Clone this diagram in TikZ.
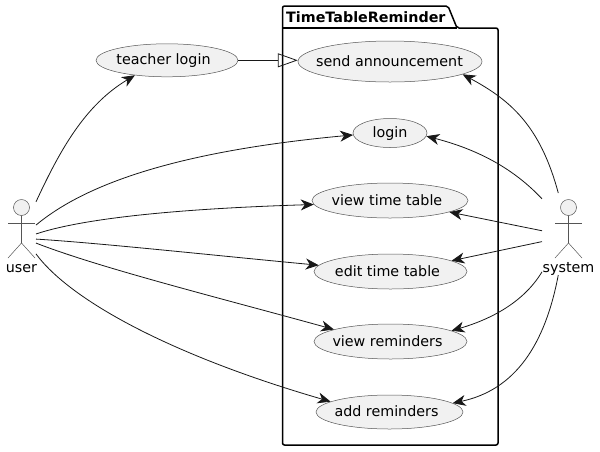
\documentclass[tikz,border=0pt]{standalone}
\usepackage{fontspec}
\setmainfont{DejaVu Sans}
\usetikzlibrary{shapes.geometric,arrows.meta}
\definecolor{usecasefill}{HTML}{F1F1F1}
\definecolor{linedark}{HTML}{181818}
\definecolor{linegray}{HTML}{555555}
% text that leaves the size of the ellipse alone, moved left by half of #1
\newcommand{\uctext}[2]{\makebox[0pt][c]{\hspace*{-#1pt}#2}}
\begin{document}
\begin{tikzpicture}[x=1pt,y=-1pt]
    % Define the styles for the use cases and arrows
    \tikzstyle{usecase}=[ellipse, draw=linegray, line width=0.5pt, fill=usecasefill, inner sep=0pt, text height=12pt, text depth=3pt, font=\fontsize{14.3}{17}\selectfont]
    \tikzstyle{actorbox}=[rectangle, inner sep=0pt, outer sep=0pt]
    \tikzstyle{actorlabel}=[inner sep=0pt, anchor=base, font=\fontsize{14.3}{17}\selectfont]
    \tikzstyle{actorline}=[draw=linegray, line width=0.5pt]
    \tikzstyle{arrow}=[draw=linedark, line width=0.8pt, -{Stealth[length=13pt,width=11pt,inset=4pt]}]
    \tikzstyle{extends}=[draw=linedark, line width=0.8pt, -{Triangle[open,length=20pt,width=14pt]}]
    \useasboundingbox (0,0) rectangle (600,451);

    % Draw the package
    \draw[line width=1.5pt, line join=round, rounded corners=2pt] (282.5,28) -- (282.5,6) -- (448,6) -- (457,28) -- (498,28) -- (498,445) -- (282.5,445) -- cycle;
    \draw[line width=1.5pt] (282.5,28) -- (457,28);
    \node[inner sep=0pt, anchor=west, font=\fontsize{14.3}{17}\selectfont\bfseries] (package_title) at (286,17) {TimeTableReminder};

    % Draw the use cases
    \node[usecase, minimum width=142pt, minimum height=33pt] (teacher_login) at (167,60.3) {\uctext{7}{teacher login}};
    \node[usecase, minimum width=184pt, minimum height=41pt] (send_announcement) at (390,61.5) {\uctext{1}{send announcement}};
    \node[usecase, minimum width=74pt, minimum height=29pt] (login) at (390,133) {\uctext{0}{login}};
    \node[usecase, minimum width=156pt, minimum height=35pt] (view_time_table) at (390,200.5) {\uctext{6}{view time table}};
    \node[usecase, minimum width=153pt, minimum height=35pt] (edit_time_table) at (390.5,271.5) {\uctext{6}{edit time table}};
    \node[usecase, minimum width=153pt, minimum height=35pt] (view_reminders) at (390.5,341.5) {\uctext{6}{view reminders}};
    \node[usecase, minimum width=147pt, minimum height=34pt] (add_reminders) at (389.5,412) {\uctext{6}{add reminders}};

    % Draw the actors
    \node[actorbox, minimum width=29pt, minimum height=76pt] (user) at (21.5,236) {};
    \node[actorbox, minimum width=53pt, minimum height=82pt] (system) at (568.5,234) {};
    \node[actorlabel] (user_label) at (21.5,272.5) {user};
    \node[actorlabel] (system_label) at (568.5,272.5) {system};
    \foreach \x in {21.5,568.5} {
        \draw[actorline, fill=usecasefill] (\x,207.5) circle (8pt);
        \draw[actorline] (\x,215.5) -- (\x,243);
        \draw[actorline] (\x-13.5,223) -- (\x+13.5,223);
        \draw[actorline] (\x-13.5,258) -- (\x,243) -- (\x+13.5,258);
    }

    % Draw the arrows from the user
    \draw[arrow] (user.67.5) .. controls (60,150) and (85,105) .. (teacher_login.205);
    \draw[arrow] (user.37) .. controls (90,180) and (190,150) .. (login.183);
    \draw[arrow] (user.8) .. controls (90,216) and (200,208) .. (view_time_table.183.4);
    \draw[arrow] (user.-12) .. controls (100,243) and (220,256) .. (edit_time_table.175.5);
    \draw[arrow] (user.-26) .. controls (100,268) and (220,298) .. (view_reminders.168);
    \draw[arrow] (user.-51) .. controls (70,300) and (170,355) .. (add_reminders.170);

    % Draw the arrows from the system
    \draw[arrow] (system.104.4) .. controls (540,125) and (510,100) .. (send_announcement.-10.9);
    \draw[arrow] (system.127.1) .. controls (515,170) and (480,150) .. (login.-5);
    \draw[arrow] (system.173.5) -- (view_time_table.-11);
    \draw[arrow] (system.196.8) -- (edit_time_table.10);
    \draw[arrow] (system.235.8) .. controls (525,300) and (495,318) .. (view_reminders.10);
    \draw[arrow] (system.256.9) .. controls (545,345) and (515,390) .. (add_reminders.8);

    % Draw the extension
    \draw[extends] (teacher_login.east) -- (teacher_login.east -| send_announcement.west);
\end{tikzpicture}
\end{document}
